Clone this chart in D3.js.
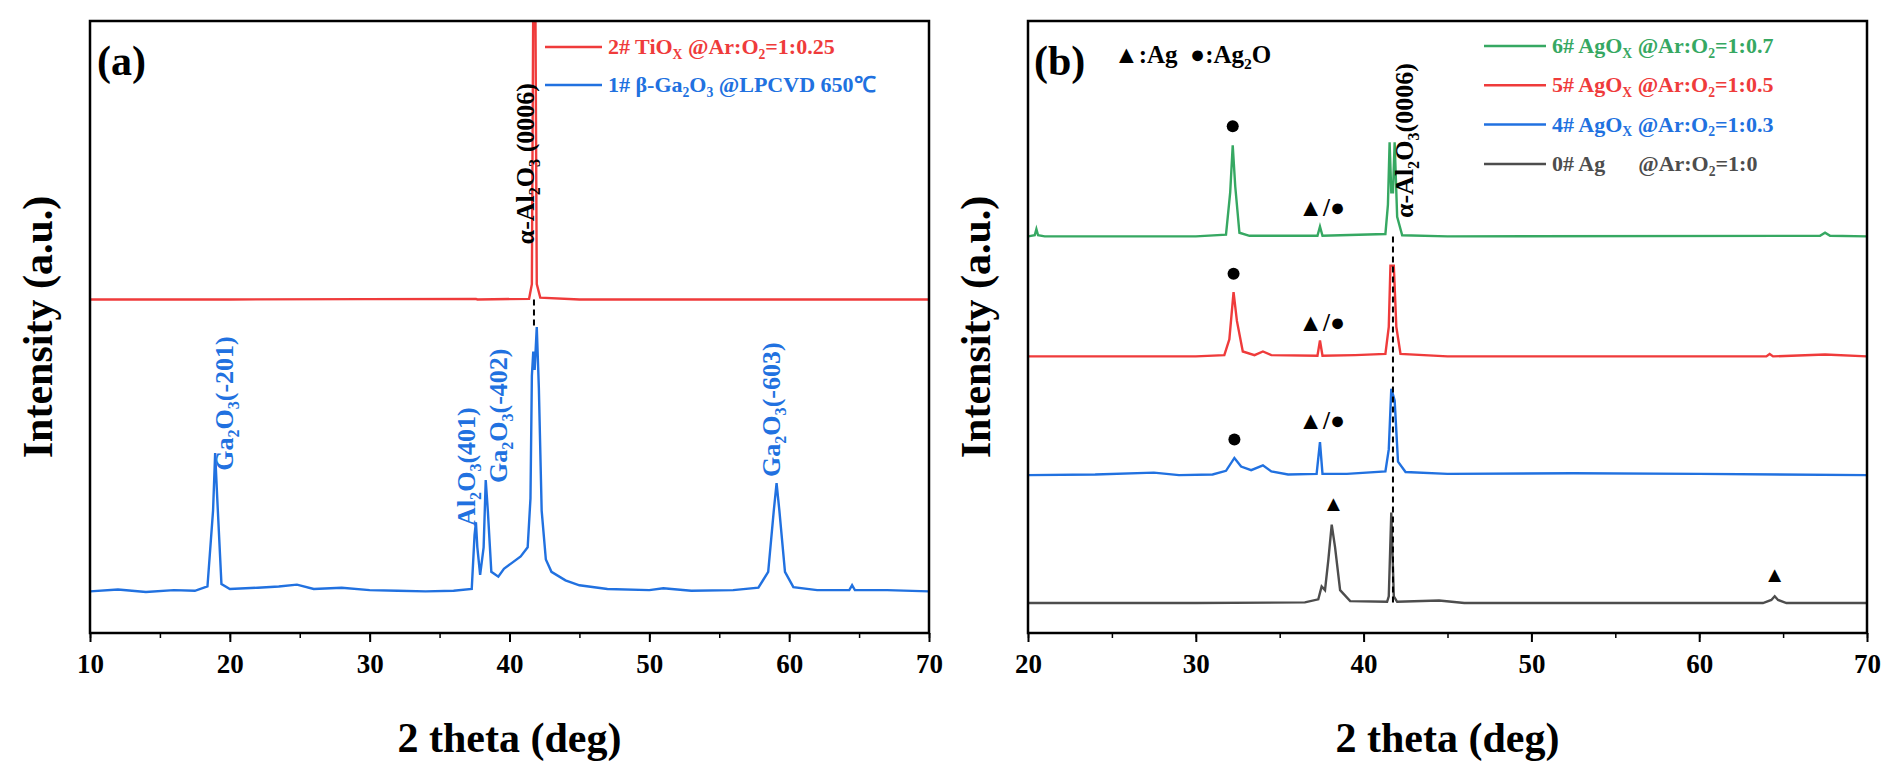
<!DOCTYPE html>
<html><head><meta charset="utf-8">
<script src="https://cdn.jsdelivr.net/npm/d3@7"></script>
<style>
body{margin:0;background:#fff}
text{font-family:"Liberation Serif","Times New Roman",serif;font-weight:bold}
</style></head>
<body><svg id="chart" width="1889" height="772"></svg>
<script>
// ---- data (arbitrary intensity units 0..100) ----
const ticksA = [10, 20, 30, 40, 50, 60, 70];
const ticksB = [20, 30, 40, 50, 60, 70];

const tiox = [[10,54.5],[20,54.5],[37.6,54.6],[37.7,54.5],[41.4,54.6],[41.6,57],[41.7,104],[41.85,104],[41.95,57],[42.2,54.8],[45,54.5],[70,54.5]];
const ga2o3 = [[10,6.8],[12,7.1],[14,6.7],[16,7.0],[17.5,6.9],[18.4,7.6],[18.8,20],[18.95,29.4],[19.1,22],[19.4,8],[20,7.2],[22,7.4],[23.5,7.6],[24.8,7.9],[26,7.2],[28,7.4],[30,7.0],[32,6.9],[34,6.8],[36,6.9],[37.3,7.2],[37.5,16],[37.6,18.1],[37.7,14],[37.9,9.5],[38.15,14],[38.3,25],[38.45,20],[38.7,10],[39.2,9.2],[39.6,10.5],[40.2,11.5],[40.8,12.5],[41.3,14],[41.5,22],[41.6,42],[41.7,46],[41.8,43],[41.95,50],[42.1,40],[42.3,20],[42.6,12],[43,10],[44,8.6],[45,7.8],[47,7.2],[50,7.0],[51,7.3],[53,6.9],[56,7.0],[57.8,7.4],[58.5,10],[58.9,20],[59.1,24.5],[59.3,20],[59.7,10],[60.3,7.5],[62,7.0],[64.3,7.0],[64.5,7.8],[64.7,7.0],[67,7.0],[70,6.8]];

const ag0 = [[20,4.9],[30,4.9],[36.5,5.0],[37.3,5.5],[37.5,7.6],[37.7,7.0],[37.9,12],[38.1,17.7],[38.3,14],[38.6,7],[39.2,5.2],[41.4,5.1],[41.5,6],[41.65,19.7],[41.8,6],[42,5.1],[44.5,5.3],[46,4.9],[63.8,4.9],[64.3,5.4],[64.5,6.0],[64.7,5.4],[65.2,4.9],[70,4.9]];
const ag3 = [[20,25.8],[24,25.9],[27.5,26.2],[29,25.8],[31,25.9],[31.8,26.5],[32.3,28.6],[32.7,27.2],[33.3,26.6],[34,27.4],[34.5,26.4],[35.5,25.9],[37.2,26],[37.4,31.2],[37.55,26],[39,26],[41.3,26.4],[41.5,30],[41.65,39.9],[41.85,38],[42.05,28],[42.5,26.3],[45,26],[52.5,26.1],[60,26],[70,25.8]];
const ag5 = [[20,45.2],[30,45.2],[31.7,45.4],[32.0,48],[32.25,55.7],[32.45,51],[32.8,46],[33.5,45.4],[34,46],[34.5,45.4],[37.25,45.3],[37.4,47.8],[37.55,45.3],[39.5,45.4],[41.3,45.6],[41.5,50],[41.6,60],[41.8,60],[41.95,50],[42.2,45.6],[45,45.2],[64,45.2],[64.2,45.6],[64.4,45.2],[67.5,45.5],[70,45.2]];
const ag7 = [[20,64.8],[20.4,65],[20.5,66],[20.6,65],[21,64.8],[30,64.8],[31.8,65.1],[32.05,72],[32.2,79.7],[32.35,73],[32.6,65.4],[33.2,64.9],[37.25,64.9],[37.4,66.4],[37.55,64.9],[41.3,65.2],[41.45,70],[41.55,80.2],[41.65,72],[41.75,72],[41.85,80.2],[42.0,68],[42.3,65],[45,64.8],[67.2,64.9],[67.5,65.4],[67.8,64.9],[70,64.8]];

const seriesA = [
  {name:"2#", label:[["2# TiO"],["X","sub"],[" @Ar:O"],["2","sub"],["=1:0.25"]], color:"#EF3B3B", data:tiox},
  {name:"1#", label:[["1# β-Ga"],["2","sub"],["O"],["3","sub"],[" @LPCVD 650℃"]], color:"#2171E0", data:ga2o3}
];
const seriesB = [
  {name:"6#", label:[["6# AgO"],["X","sub"],[" @Ar:O"],["2","sub"],["=1:0.7"]], color:"#36A862", data:ag7},
  {name:"5#", label:[["5# AgO"],["X","sub"],[" @Ar:O"],["2","sub"],["=1:0.5"]], color:"#EF3B3B", data:ag5},
  {name:"4#", label:[["4# AgO"],["X","sub"],[" @Ar:O"],["2","sub"],["=1:0.3"]], color:"#2171E0", data:ag3},
  {name:"0#", label:[["0# Ag\u00a0\u00a0\u00a0\u00a0\u00a0\u00a0@Ar:O"],["2","sub"],["=1:0"]], color:"#4D4D4D", data:ag0}
];

const peakLabelsA = [
  {x:19.6, y:26.5, parts:[["Ga"],["2","sub"],["O"],["3","sub"],["(-201)"]]},
  {x:36.9, y:17.5, parts:[["Al"],["2","sub"],["O"],["3","sub"],["(401)"]]},
  {x:39.2, y:24.5, parts:[["Ga"],["2","sub"],["O"],["3","sub"],["(-402)"]]},
  {x:58.7, y:25.5, parts:[["Ga"],["2","sub"],["O"],["3","sub"],["(-603)"]]}
];
const circlesB = [[32.2,82.8],[32.25,58.7],[32.3,31.6]];
const slashB = [[37.5,68.2],[37.5,49.3],[37.5,33.4]];
const trianglesB = [[38.2,20],[64.5,8.3]];

// ---- drawing ----
const svg = d3.select("#chart");
const plotTop = 21, plotBottom = 633;

// text with subscripts
function rich(sel, parts, size) {
  let prevSub = false;
  parts.forEach(p => {
    const isSub = p[1] === "sub";
    const t = sel.append("tspan").text(p[0]);
    if (isSub) t.attr("font-size", size * 0.62).attr("dy", size * 0.22);
    else if (prevSub) t.attr("dy", -size * 0.22);
    prevSub = isSub;
  });
  return sel;
}

function panel(x0, x1, domain, ticks, series, id) {
  const x = d3.scaleLinear().domain(domain).range([x0, x1]);
  const y = d3.scaleLinear().domain([0, 100]).range([plotBottom, plotTop]);
  const g = svg.append("g");
  g.append("clipPath").attr("id", "clip" + id).append("rect")
    .attr("x", x0).attr("y", plotTop).attr("width", x1 - x0).attr("height", plotBottom - plotTop);
  const line = d3.line().x(d => x(d[0])).y(d => y(d[1]));
  series.slice().reverse().forEach(s => {
    g.append("path").datum(s.data).attr("d", line).attr("clip-path", `url(#clip${id})`)
      .attr("fill", "none").attr("stroke", s.color).attr("stroke-width", 2.4);
  });
  const minor = d3.range(domain[0], domain[1] + 0.1, 5);
  g.append("g").attr("transform", `translate(0,${plotBottom})`)
    .call(d3.axisBottom(x).tickValues(minor).tickSize(5).tickFormat(""))
    .call(a => a.select(".domain").remove())
    .call(a => a.selectAll("line").attr("stroke-width", 1.5));
  g.append("g").attr("transform", `translate(0,${plotBottom})`)
    .call(d3.axisBottom(x).tickValues(ticks).tickSize(9).tickPadding(12).tickFormat(d3.format("d")))
    .call(a => a.select(".domain").remove())
    .call(a => a.selectAll("line").attr("stroke-width", 2))
    .call(a => a.selectAll("text").attr("font-size", 27).attr("font-family", "Liberation Serif").attr("font-weight", "bold").attr("fill", "#000"));
  g.append("rect").attr("x", x0).attr("y", plotTop).attr("width", x1 - x0).attr("height", plotBottom - plotTop)
    .attr("fill", "none").attr("stroke", "#000").attr("stroke-width", 2.5);
  g.append("text").attr("x", (x0 + x1) / 2).attr("y", 752).attr("text-anchor", "middle")
    .attr("font-size", 42).text("2 theta (deg)");
  g.append("text").attr("transform", `translate(${x0 - 38},327) rotate(-90)`).attr("text-anchor", "middle")
    .attr("font-size", 42).text("Intensity (a.u.)");
  return {g, x, y};
}

// panel (a)
const A = panel(90, 929, [10, 70], ticksA, seriesA, "a");
A.g.append("text").attr("x", 97).attr("y", 75).attr("font-size", 42).text("(a)");
seriesA.forEach((s, i) => {
  const yy = 47 + i * 38;
  A.g.append("line").attr("x1", 545).attr("x2", 602).attr("y1", yy).attr("y2", yy).attr("stroke", s.color).attr("stroke-width", 2.5);
  rich(A.g.append("text").attr("x", 608).attr("y", yy + 7).attr("font-size", 22).attr("fill", s.color), s.label, 22);
});
A.g.append("line").attr("x1", A.x(41.75)).attr("x2", A.x(41.75)).attr("y1", A.y(54.5)).attr("y2", A.y(50))
  .attr("stroke", "#000").attr("stroke-width", 2).attr("stroke-dasharray", "6,4");
rich(A.g.append("text").attr("transform", `translate(${A.x(41.1) + 9},${A.y(63.5)}) rotate(-90)`).attr("font-size", 26), [["α-Al"],["2","sub"],["O"],["3","sub"],[" (0006)"]], 26);
peakLabelsA.forEach(p => {
  rich(A.g.append("text").attr("transform", `translate(${A.x(p.x) + 9},${A.y(p.y)}) rotate(-90)`)
    .attr("font-size", 26).attr("fill", "#2171E0"), p.parts, 26);
});

// panel (b)
const B = panel(1028, 1867, [20, 70], ticksB, seriesB, "b");
B.g.append("text").attr("x", 1034).attr("y", 75).attr("font-size", 42).text("(b)");
rich(B.g.append("text").attr("x", 1114).attr("y", 63).attr("font-size", 25), [["▲:Ag\u00a0\u00a0●:Ag"],["2","sub"],["O"]], 25);
seriesB.forEach((s, i) => {
  const yy = 46 + i * 39.3;
  B.g.append("line").attr("x1", 1484).attr("x2", 1546).attr("y1", yy).attr("y2", yy).attr("stroke", s.color).attr("stroke-width", 2.5);
  rich(B.g.append("text").attr("x", 1552).attr("y", yy + 7).attr("font-size", 22).attr("fill", s.color), s.label, 22);
});
B.g.append("line").attr("x1", B.x(41.75)).attr("x2", B.x(41.75)).attr("y1", B.y(64.8)).attr("y2", B.y(4.9))
  .attr("stroke", "#000").attr("stroke-width", 2).attr("stroke-dasharray", "6,4");
rich(B.g.append("text").attr("transform", `translate(${B.x(42.4) + 9},${B.y(67.8)}) rotate(-90)`).attr("font-size", 26), [["α-Al"],["2","sub"],["O"],["3","sub"],["(0006)"]], 26);
circlesB.forEach(c => B.g.append("circle").attr("cx", B.x(c[0])).attr("cy", B.y(c[1])).attr("r", 6).attr("fill", "#000"));
slashB.forEach(c => B.g.append("text").attr("x", B.x(c[0])).attr("y", B.y(c[1])).attr("text-anchor", "middle").attr("font-size", 25).text("▲/●"));
trianglesB.forEach(c => B.g.append("text").attr("x", B.x(c[0])).attr("y", B.y(c[1])).attr("text-anchor", "middle").attr("font-size", 22).text("▲"));
</script></body></html>
